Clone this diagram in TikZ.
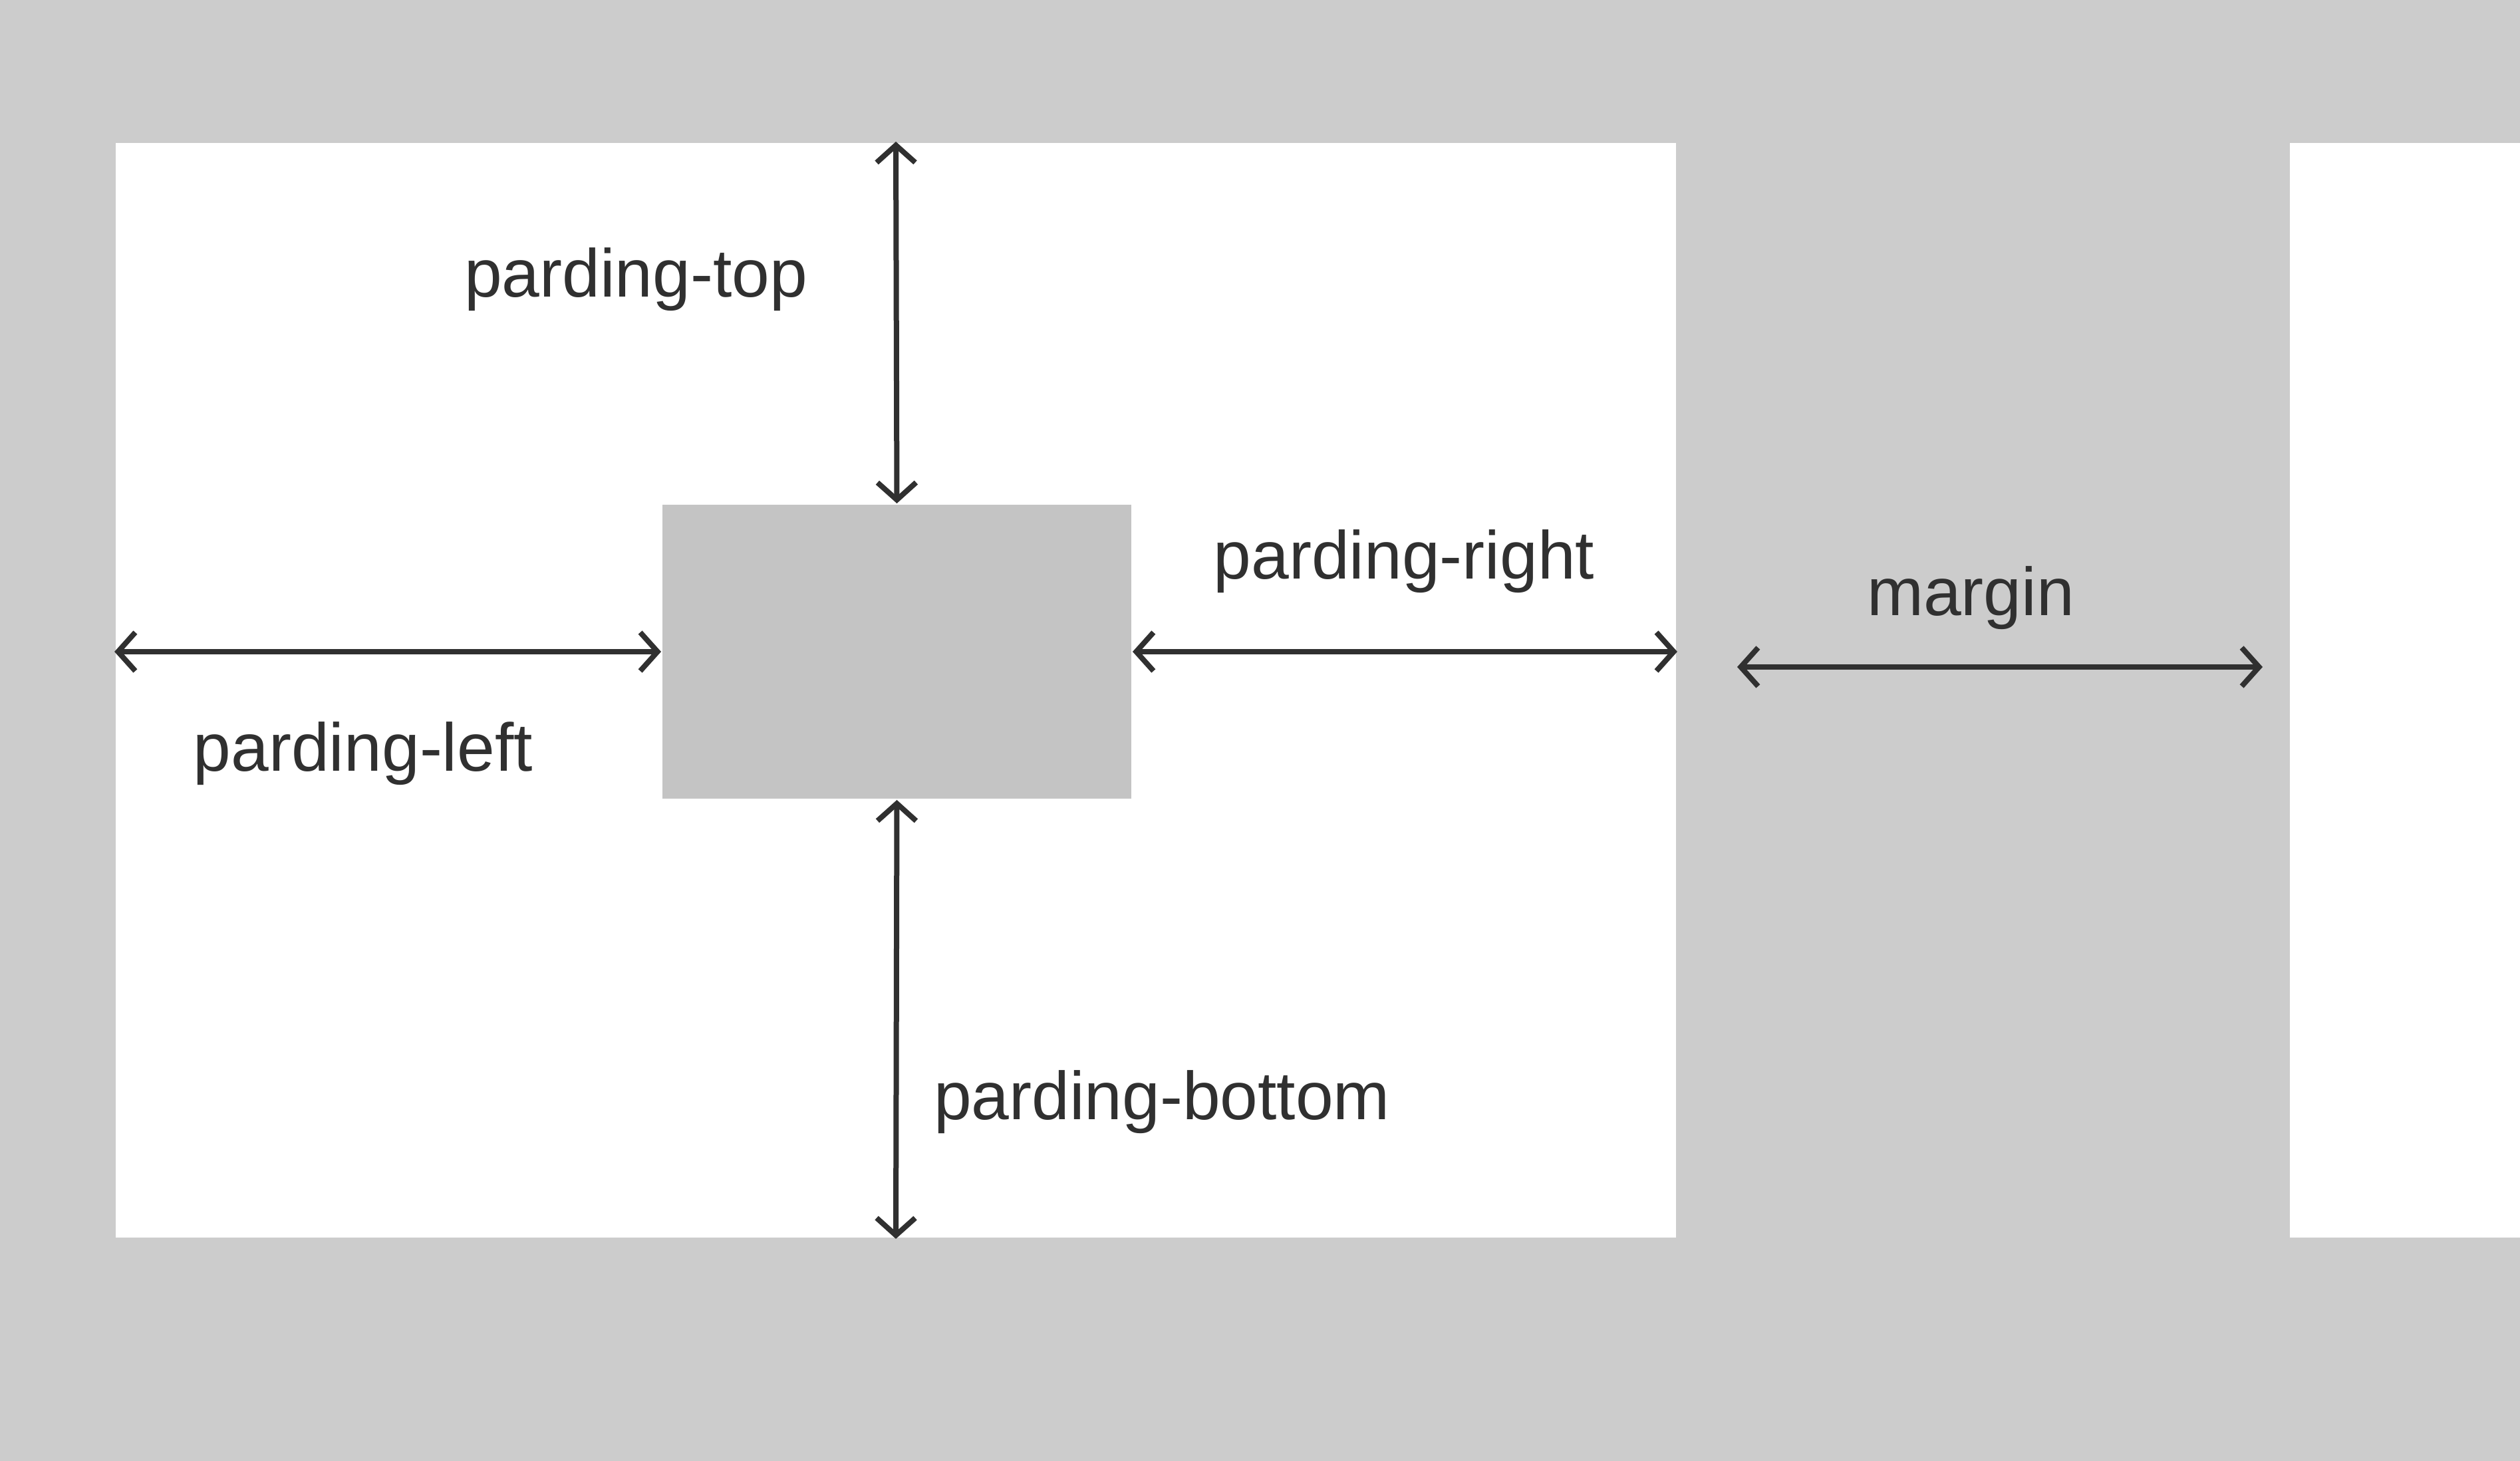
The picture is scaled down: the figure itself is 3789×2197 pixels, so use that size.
\documentclass[tikz,border=0pt]{standalone}
\usepackage{fontspec}
\setmainfont{Liberation Sans}
\usetikzlibrary{arrows.meta,positioning}
\definecolor{pagegray}{HTML}{CCCCCC}
\definecolor{boxgray}{HTML}{C4C4C4}
\definecolor{ink}{HTML}{303030}
\tikzset{
  pagebox/.style={fill=white, inner sep=0pt, minimum width=234.6pt, minimum height=164.6pt},
  innerbox/.style={fill=boxgray, inner sep=0pt, minimum width=70.5pt, minimum height=44.2pt},
  dimarrow/.style={draw=ink, line width=0.8pt,
    {Straight Barb[length=2.6pt,width=5.8pt]}-{Straight Barb[length=2.6pt,width=5.8pt]}},
  lbl/.style={text=ink, inner sep=0pt, font=\fontsize{10.2pt}{12pt}\selectfont}
}

\begin{document}
\begin{tikzpicture}[x=0.1pt,y=-0.1pt]
			\useasboundingbox (0,0) rectangle (3789,2197);
			\clip (0,0) rectangle (3789,2197);
			\fill[pagegray] (0,0) rectangle (3789,2197);

			% Define nodes
			\node[pagebox] (outer) at (1347,1038) {};
			\node[innerbox] (box) at (1348.5,980) {};
			\node[pagebox, minimum width=80pt, anchor=west] (next) at (3441,1038) {};
			\coordinate (m1) at (2612,1003);
			\coordinate (m2) at (3402,1003);

			% Labels
			\node[lbl] (ptop) at (956,420) {parding-top};
			\node[lbl] (pright) at (2111,844) {parding-right};
			\node[lbl] (marg) at (2963,899) {margin};
			\node[lbl] (pleft) at (546,1133) {parding-left};
			\node[lbl] (pbottom) at (1747,1657) {parding-bottom};

			% Connect the nodes
			\draw[dimarrow] (outer.north) -- (box.north);
			\draw[dimarrow] (box.south) -- (outer.south);
			\draw[dimarrow] (outer.west |- box.west) -- (box.west);
			\draw[dimarrow] (box.east) -- (outer.east |- box.east);
			\draw[dimarrow] (m1) -- (m2);
		\end{tikzpicture}
\end{document}
